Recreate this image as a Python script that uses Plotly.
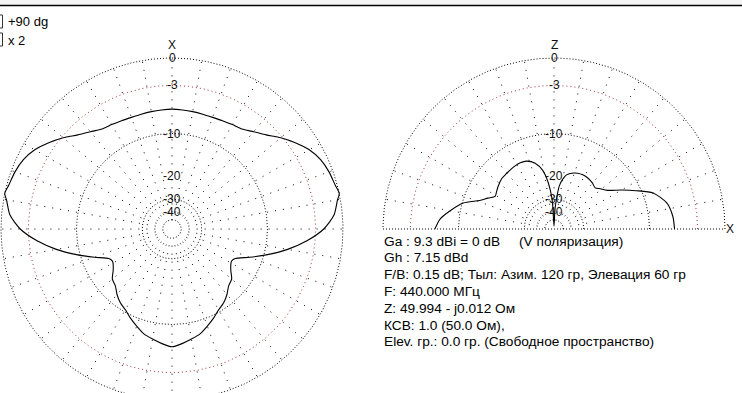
import numpy as np
import plotly.graph_objects as go

# ---------------- data ----------------
# Azimuth pattern (left plot): degrees clockwise from the X axis (top), dB relative to max
az_deg = [0, 5, 10, 15, 20, 25, 30, 35, 40, 45, 50, 55, 60, 65, 70, 75, 78, 80, 85, 90,
          95, 100, 105, 110, 115, 118, 120, 125, 130, 135, 140, 145, 150, 155, 160, 165,
          170, 175, 180, 185, 190, 195, 200, 205, 210, 215, 220, 225, 230, 235, 240, 242,
          245, 250, 255, 260, 265, 270, 275, 280, 282, 285, 290, 295, 300, 305, 310, 315,
          320, 325, 330, 335, 340, 345, 350, 355, 360]
az_db = [-6.1, -6.15, -6.2, -6.25, -6.25, -6.15, -6.0, -5.8, -5.1, -4.3, -3.2, -2.2, -1.3,
         -0.72, -0.4, -0.2, 0.0, -0.3, -0.85, -2.05, -4.0, -6.45, -9.4, -12.5, -15.4, -15.9,
         -15.8, -14.9, -13.5, -13.0, -11.9, -11.0, -10.4, -9.5, -8.65, -7.8, -7.3, -6.8,
         -6.4, -6.8, -7.3, -7.8, -8.65, -9.5, -10.4, -11.0, -11.9, -13.0, -13.5, -14.9,
         -15.8, -15.9, -15.4, -12.5, -9.4, -6.45, -4.0, -2.05, -0.85, -0.3, 0.0, -0.2,
         -0.4, -0.72, -1.3, -2.2, -3.2, -4.3, -5.1, -5.8, -6.0, -6.15, -6.25, -6.25,
         -6.2, -6.15, -6.1]

# Elevation pattern (right plot): degrees from horizon X (right) towards Z (top), dB
el_deg = [0, 6, 13, 20, 25, 30, 36, 41, 45, 50, 54, 58, 62, 67, 71, 77, 80, 83, 85, 87,
          90, 93, 94, 97, 101, 106, 112, 117, 122, 127, 131, 136, 143, 147, 151, 155, 159,
          164, 170, 175, 180]
el_db = [-6.0, -6.15, -6.7, -8.3, -10.9, -13.5, -16.4, -17.6, -18.5, -18.0, -17.75, -17.6,
         -17.6, -17.8, -18.2, -19.3, -20.9, -23.5, -29.0, -36.0, -70.0, -36.0, -29.0,
         -22.4, -18.0, -15.7, -14.55, -14.3, -14.35, -14.5, -14.6, -14.7, -15.3, -15.7,
         -16.0, -14.6, -13.1, -10.2, -8.3, -6.9, -6.2]

grid_db = [0, -3, -10, -30, -50]
spoke_start_db = -40
scale_db = [0, -3, -10, -20, -30, -40]
scale_text = ["0", "-3", "-10", "-20", "-30", "-40"]

info_lines = [
    "Ga : 9.3 dBi = 0 dB&nbsp;&nbsp;&nbsp;&nbsp;&nbsp;(V поляризация)",
    "Gh : 7.15 dBd",
    "F/B: 0.15 dB; Тыл: Азим. 120 гр, Элевация 60 гр",
    "F: 440.000 МГц",
    "Z: 49.994 - j0.012 Ом",
    "КСВ: 1.0 (50.0 Ом),",
    "Elev. гр.: 0.0 гр. (Свободное пространство)",
]
option_text = ["+90 dg", "x 2"]

# ---------------- layout constants ----------------
W, H = 742, 393
PPU = 171.0          # pixels per unit (0 dB ring radius)
LCX, LCY = 172, 229  # left plot centre (px)
RCX = 554            # right plot centre x (px)
XR = (RCX - LCX) / PPU
FONT = "Arial, Liberation Sans, sans-serif"


def rho(db):
    # ARRL log scale: 0.89 per 2 dB
    return 0.89 ** (-np.asarray(db, dtype=float) / 2.0)


def px(x):
    return x / W


def py(y):
    return 1 - y / H


fig = go.Figure()

RING_DASH = "1px,2px"
SPOKE_DASH = "1px,7px"
RED = "#a0303c"

# ----- left grid -----
t = np.radians(np.linspace(0, 360, 721))
for db in grid_db:
    r = float(rho(db))
    fig.add_trace(go.Scatter(x=r * np.sin(t), y=r * np.cos(t), mode="lines",
                             line=dict(color=RED if db == -3 else "#000000",
                                       width=1, dash="1px,3px" if db == -3 else RING_DASH),
                             hoverinfo="skip", showlegend=False))
r_in = float(rho(spoke_start_db))
sx, sy = [], []
for a in range(0, 360, 10):
    ar = np.radians(a)
    sx += [r_in * np.sin(ar), np.sin(ar), None]
    sy += [r_in * np.cos(ar), np.cos(ar), None]
fig.add_trace(go.Scatter(x=sx, y=sy, mode="lines",
                         line=dict(color="#000000", width=1, dash=SPOKE_DASH),
                         hoverinfo="skip", showlegend=False))

# ----- right grid -----
th = np.radians(np.linspace(0, 180, 361))
for db in grid_db:
    r = float(rho(db))
    fig.add_trace(go.Scatter(x=XR + r * np.cos(th), y=r * np.sin(th), mode="lines",
                             line=dict(color=RED if db == -3 else "#000000",
                                       width=1, dash="1px,3px" if db == -3 else RING_DASH),
                             hoverinfo="skip", showlegend=False))
sx, sy = [], []
for a in range(10, 180, 10):
    ar = np.radians(a)
    sx += [XR + r_in * np.cos(ar), XR + np.cos(ar), None]
    sy += [r_in * np.sin(ar), np.sin(ar), None]
fig.add_trace(go.Scatter(x=sx, y=sy, mode="lines",
                         line=dict(color="#000000", width=1, dash=SPOKE_DASH),
                         hoverinfo="skip", showlegend=False))
fig.add_trace(go.Scatter(x=[XR - 1, XR + 1], y=[0, 0], mode="lines",
                         line=dict(color="#000000", width=1, dash=RING_DASH),
                         hoverinfo="skip", showlegend=False))

# ----- patterns -----
ra = rho(az_db)
aa = np.radians(az_deg)
fig.add_trace(go.Scatter(x=ra * np.sin(aa), y=ra * np.cos(aa), mode="lines",
                         line=dict(color="#000000", width=1.1, shape="spline", smoothing=0.7),
                         hoverinfo="skip", showlegend=False))
re_ = rho(el_db)
ea = np.radians(el_deg)
fig.add_trace(go.Scatter(x=XR + re_ * np.cos(ea), y=re_ * np.sin(ea), mode="lines",
                         line=dict(color="#000000", width=1.1, shape="spline", smoothing=0.7),
                         hoverinfo="skip", showlegend=False))

# ----- scale labels -----
ann = []
for cx in (0.0, XR):
    for db, txt in zip(scale_db, scale_text):
        ann.append(dict(x=cx, y=float(rho(db)), xref="x", yref="y", text=txt,
                        showarrow=False, xanchor="center", yanchor="middle",
                        font=dict(family=FONT, size=12, color="#111111")))
ann.append(dict(x=0.0, y=float(rho(0)) + 13 / PPU, xref="x", yref="y", text="X",
                showarrow=False, xanchor="center", yanchor="middle",
                font=dict(family=FONT, size=12, color="#111111")))
ann.append(dict(x=XR, y=float(rho(0)) + 13 / PPU, xref="x", yref="y", text="Z",
                showarrow=False, xanchor="center", yanchor="middle",
                font=dict(family=FONT, size=12, color="#111111")))
ann.append(dict(x=XR + 1 + 5 / PPU, y=0, xref="x", yref="y", text="X",
                showarrow=False, xanchor="center", yanchor="middle",
                font=dict(family=FONT, size=12, color="#111111")))

# ----- info text -----
for i, line in enumerate(info_lines):
    ann.append(dict(x=px(382), y=py(241 + i * 16.8), xref="paper", yref="paper",
                    text=line, showarrow=False, xanchor="left", yanchor="middle",
                    font=dict(family=FONT, size=13.7, color="#000000")))
for i, line in enumerate(option_text):
    ann.append(dict(x=px(6), y=py(22 + i * 18), xref="paper", yref="paper",
                    text=line, showarrow=False, xanchor="left", yanchor="middle",
                    font=dict(family=FONT, size=13, color="#000000")))

shapes = [
    dict(type="rect", xref="paper", yref="paper", x0=0, x1=1, y0=py(5), y1=1,
         line=dict(width=0), fillcolor="#f4f4f4", layer="below"),
    dict(type="line", xref="paper", yref="paper", x0=0, x1=1, y0=py(5.5), y1=py(5.5),
         line=dict(color="#000000", width=1.5)),
]
for yc in (22, 40):
    shapes.append(dict(type="path", xref="paper", yref="paper",
                       path=f"M {px(-2)},{py(yc - 7)} L {px(2.5)},{py(yc - 7)} "
                            f"L {px(2.5)},{py(yc + 6)} L {px(-2)},{py(yc + 6)}",
                       line=dict(color="#333333", width=1)))

fig.update_layout(
    width=W, height=H, margin=dict(l=0, r=0, t=0, b=0),
    paper_bgcolor="#ffffff", plot_bgcolor="#ffffff",
    xaxis=dict(range=[-LCX / PPU, (W - LCX) / PPU], visible=False, fixedrange=True),
    yaxis=dict(range=[-(H - LCY) / PPU, LCY / PPU], visible=False, fixedrange=True),
    annotations=ann, shapes=shapes, showlegend=False,
)

fig.write_html("out.html")
